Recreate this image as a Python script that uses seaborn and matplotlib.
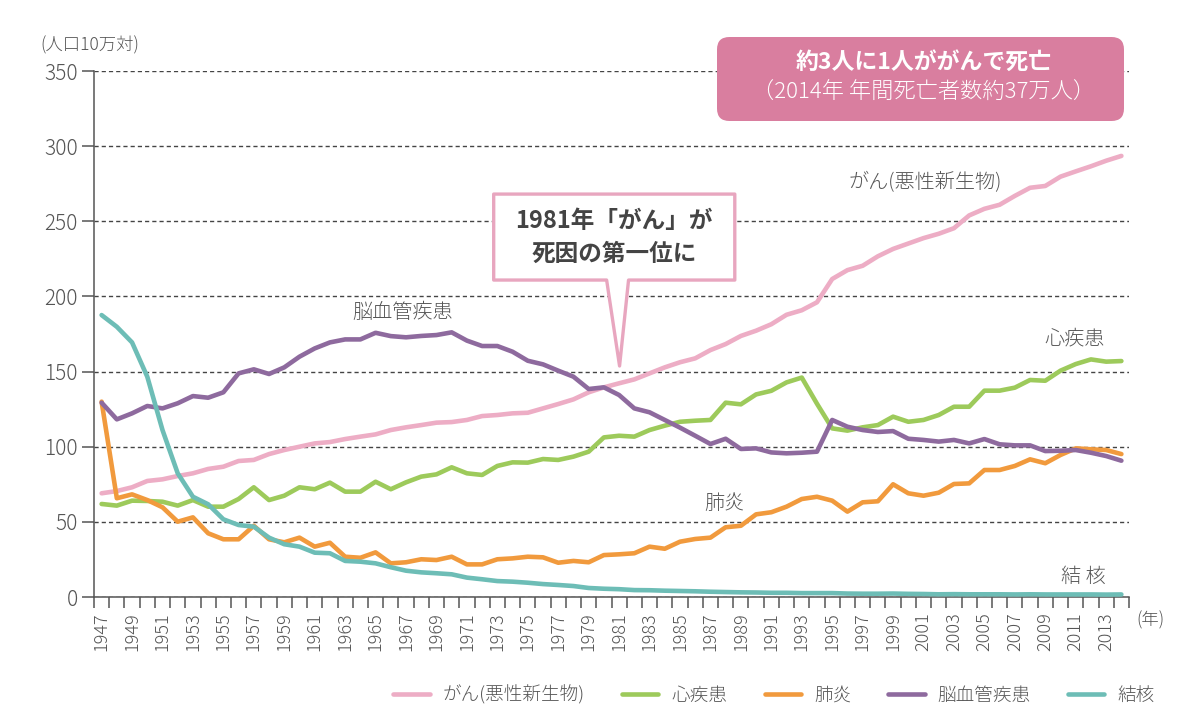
import numpy as np
import pandas as pd
import matplotlib
matplotlib.use("Agg")
import matplotlib.pyplot as plt
from matplotlib.patches import Polygon, FancyBboxPatch
from matplotlib.lines import Line2D
from matplotlib.ticker import MultipleLocator
import seaborn as sns

years = list(range(1947, 2015))

cancer = [69.0, 70.5, 73.0, 77.2, 78.3, 80.5, 82.3, 85.2, 86.7, 90.5,
          91.2, 95.1, 97.8, 100.0, 102.2, 103.1, 105.1, 106.7, 108.2, 111.1,
          112.9, 114.4, 116.0, 116.4, 117.8, 120.4, 121.1, 122.2, 122.6, 125.5,
          128.4, 131.5, 136.2, 139.5, 142.2, 144.8, 148.8, 152.8, 156.2, 158.8,
          164.3, 168.3, 173.7, 177.2, 181.5, 187.8, 190.8, 196.1, 211.6, 217.5,
          220.4, 226.7, 231.6, 235.2, 238.8, 241.7, 245.4, 253.9, 258.3, 261.0,
          266.9, 272.3, 273.5, 279.7, 283.2, 286.6, 290.3, 293.5]

heart = [61.9, 60.8, 64.1, 63.9, 63.4, 60.8, 64.5, 60.1, 60.1, 65.2,
         73.0, 64.5, 67.4, 73.0, 71.7, 76.1, 70.1, 70.1, 76.7, 71.7,
         76.3, 80.1, 81.6, 86.3, 82.3, 81.2, 87.2, 89.6, 89.4, 91.8,
         91.2, 93.4, 96.7, 106.2, 107.3, 106.7, 111.1, 114.0, 116.6, 117.3,
         117.8, 129.3, 128.2, 134.8, 137.2, 142.8, 146.0, 128.6, 112.2, 110.7,
         112.9, 114.4, 120.0, 116.6, 117.8, 121.1, 126.6, 126.6, 137.3, 137.3,
         139.3, 144.4, 143.9, 150.6, 155.0, 158.1, 156.6, 157.0]

pneumonia = [130.0, 65.7, 68.3, 64.5, 59.7, 50.1, 53.0, 42.4, 38.4, 38.4,
             47.4, 38.4, 36.4, 39.5, 33.5, 36.1, 26.8, 26.1, 29.7, 22.4,
             23.1, 25.1, 24.6, 26.8, 21.7, 21.7, 25.1, 25.7, 26.8, 26.4,
             22.8, 24.0, 23.1, 27.9, 28.4, 29.1, 33.5, 32.1, 36.8, 38.6,
             39.5, 46.4, 47.4, 55.0, 56.4, 60.1, 65.2, 66.7, 64.1, 56.8,
             63.0, 63.7, 75.0, 69.0, 67.4, 69.4, 75.2, 75.6, 84.5, 84.5,
             87.2, 91.6, 89.0, 94.5, 98.9, 98.3, 97.8, 95.1]

cerebro = [129.3, 118.2, 122.2, 127.1, 125.5, 128.9, 133.7, 132.6, 136.2, 148.8,
           151.5, 148.4, 152.8, 159.9, 165.4, 169.4, 171.4, 171.4, 175.8, 173.6,
           172.8, 173.7, 174.3, 176.1, 170.6, 167.0, 167.0, 163.2, 157.2, 154.8,
           150.6, 146.6, 138.4, 139.5, 134.4, 125.5, 122.9, 117.8, 112.7, 107.3,
           101.8, 105.3, 98.5, 98.9, 96.2, 95.6, 96.0, 96.7, 117.8, 113.3,
           111.1, 109.8, 110.4, 105.3, 104.5, 103.4, 104.5, 102.2, 105.1, 101.6,
           100.9, 100.9, 97.1, 97.3, 97.8, 96.0, 93.8, 90.7]

tb = [187.6, 179.8, 169.4, 146.6, 111.1, 82.3, 66.7, 61.7, 51.7, 47.9,
      46.8, 39.5, 35.1, 33.5, 29.5, 29.1, 24.0, 23.5, 22.4, 19.8,
      17.5, 16.4, 15.8, 15.1, 12.9, 11.8, 10.6, 10.2, 9.5, 8.6,
      8.0, 7.3, 6.0, 5.5, 5.2, 4.6, 4.5, 4.2, 4.0, 3.8,
      3.5, 3.3, 3.1, 3.0, 2.8, 2.8, 2.6, 2.6, 2.6, 2.3,
      2.2, 2.2, 2.3, 2.1, 2.0, 1.8, 1.9, 1.8, 1.8, 1.8,
      1.7, 1.8, 1.7, 1.7, 1.7, 1.7, 1.6, 1.7]

names = ["がん(悪性新生物)", "心疾患", "肺炎", "脳血管疾患", "結核"]
colors = ["#EDADC5", "#9DCA5B", "#F19A3D", "#8E6A9E", "#6DBDB6"]

df = pd.DataFrame({"年": years * 5,
                   "死亡率": cancer + heart + pneumonia + cerebro + tb,
                   "死因": sum([[n] * len(years) for n in names], [])})

sns.set_theme(style="white")
plt.rcParams["font.family"] = ["Noto Sans CJK JP", "DejaVu Sans"]
plt.rcParams["font.weight"] = "light"
txt = "#555555"

fig = plt.figure(figsize=(12, 7.2), dpi=100)
ax = fig.add_axes([94 / 1200, 1 - 597 / 720, 1035 / 1200, 526 / 720])

sns.lineplot(data=df, x="年", y="死亡率", hue="死因", palette=dict(zip(names, colors)),
             linewidth=3.3, legend=False, ax=ax, zorder=3)
for ln in ax.lines:
    ln.set_solid_capstyle("round")
    ln.set_solid_joinstyle("round")

ax.set_xlim(1946.5, 2014.5)
ax.set_ylim(0, 350)
ax.set_xlabel("")
ax.set_ylabel("")
ax.set_yticks(range(0, 351, 50))
ax.set_xticks(range(1947, 2014, 2))
ax.xaxis.set_minor_locator(MultipleLocator(1, offset=0.5))
ax.tick_params(axis="x", which="major", length=0, pad=11, labelrotation=90,
               labelsize=13, labelcolor=txt)
ax.tick_params(axis="x", which="minor", length=8, width=1.1, color="#555555", direction="out",
               bottom=True)
ax.tick_params(axis="y", length=8.5, width=1.1, color="#555555", direction="out", left=True,
               pad=3, labelsize=15, labelcolor=txt)
for s in ["top", "right"]:
    ax.spines[s].set_visible(False)
for s in ["left", "bottom"]:
    ax.spines[s].set_color("#555555")
    ax.spines[s].set_linewidth(1.1)
ax.yaxis.grid(True, linestyle=(0, (3, 2.2)), color="#444444", linewidth=1.0, zorder=0)
ax.set_axisbelow(True)

# series labels
lab = dict(fontsize=14.5, color=txt, ha="center", va="center", zorder=5)
ax.text(1966.8, 189, "脳血管疾患", **lab)
ax.text(2001.1, 276, "がん(悪性新生物)", **lab)
ax.text(2010.9, 172, "心疾患", **lab)
ax.text(1987.9, 62.5, "肺炎", **lab)
ax.text(2011.5, 13.5, "結 核", **lab)

# callout for 1981
callout = Polygon([(1972.76, 268.1), (1988.6, 268.1), (1988.6, 210.9), (1981.62, 210.9),
                   (1981.03, 153.7), (1980.18, 210.9), (1972.76, 210.9)],
                  closed=True, facecolor="white", edgecolor="#E8A6BF", linewidth=2.4,
                  joinstyle="round", zorder=6)
ax.add_patch(callout)
ax.text(1980.67, 250, "1981年「がん」が", fontsize=17, fontweight="bold", color="#444444",
        ha="center", va="center", zorder=7)
ax.text(1980.67, 228, "死因の第一位に", fontsize=17, fontweight="bold", color="#444444",
        ha="center", va="center", zorder=7)

# headline box
box = FancyBboxPatch((623 / 1035, 476 / 526), 407 / 1035, 84 / 526,
                     boxstyle="round,pad=0,rounding_size=0.012", transform=ax.transAxes,
                     facecolor="#D97E9F", edgecolor="none", clip_on=False, zorder=8,
                     mutation_aspect=1035 / 526)
ax.add_patch(box)
ax.text(0.8014, 1.017, "約3人に1人ががんで死亡", transform=ax.transAxes, fontsize=16.5,
        fontweight="bold", color="white", ha="center", va="center", zorder=9)
ax.text(0.8014, 0.958, "（2014年 年間死亡者数約37万人）", transform=ax.transAxes, fontsize=16,
        color="white", ha="center", va="center", zorder=9)

fig.text(40 / 1200, 1 - 45 / 720, "(人口10万対)", fontsize=12.5, color=txt, ha="left", va="center")
fig.text(1136 / 1200, 1 - 620 / 720, "(年)", fontsize=12.5, color=txt, ha="left", va="center")

handles = [Line2D([], [], color=c, linewidth=3.3) for c in colors]
fig.legend(handles, names, loc="center", bbox_to_anchor=(0.645, 0.035), ncol=5, frameon=False,
           fontsize=13.4, handlelength=1.95, handletextpad=0.7, columnspacing=2.0,
           labelcolor=txt)

fig.savefig("out.png", dpi=100)
